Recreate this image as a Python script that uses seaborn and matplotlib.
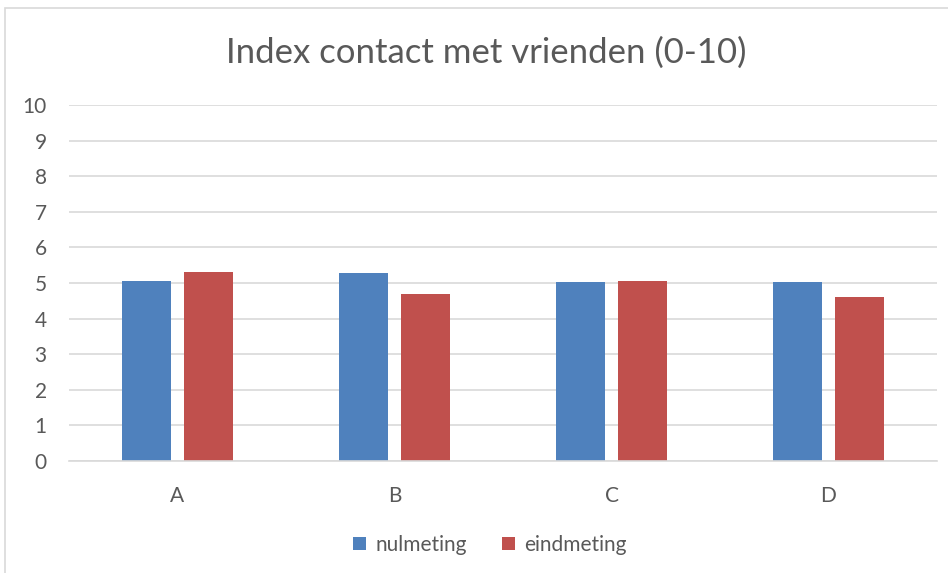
import matplotlib
matplotlib.use("Agg")
import matplotlib.pyplot as plt
import seaborn as sns
import pandas as pd
from matplotlib.patches import Rectangle

categories = ["A", "B", "C", "D"]
nulmeting = [5.06, 5.28, 5.03, 5.03]
eindmeting = [5.31, 4.70, 5.06, 4.62]
series_names = ["nulmeting", "eindmeting"]
title = "Index contact met vrienden (0-10)"
colors = ["#4F81BD", "#C0504D"]

df = pd.DataFrame({
    "cat": categories * 2,
    "val": nulmeting + eindmeting,
    "serie": [series_names[0]] * 4 + [series_names[1]] * 4,
})

sns.set_theme(style="white")
plt.rcParams["font.family"] = ["Lato", "DejaVu Sans"]

W, H = 948, 573
fig = plt.figure(figsize=(W / 100, H / 100), dpi=100)
ax = fig.add_axes([69 / W, 1 - 461 / H, (937 - 69) / W, (461 - 105) / H])

sns.barplot(data=df, x="cat", y="val", hue="serie", order=categories,
            hue_order=series_names, palette=colors, width=0.572, gap=0.21,
            saturation=1, ax=ax, legend=True, edgecolor="none")

ax.set_ylim(0, 10)
ax.set_xlim(-0.5, 3.5)
ax.set_yticks(range(0, 11))
ax.yaxis.grid(True, color="#d9d9d9", linewidth=1.2)
ax.set_axisbelow(True)
for s in ["top", "right", "left"]:
    ax.spines[s].set_visible(False)
ax.spines["bottom"].set_color("#d9d9d9")
ax.spines["bottom"].set_linewidth(1.2)
ax.set_xlabel("")
ax.set_ylabel("")
ax.tick_params(axis="y", length=0, pad=16, labelsize=15, labelcolor="#595959")
ax.tick_params(axis="x", length=0, pad=18, labelsize=15, labelcolor="#595959")

fig.text(486 / W, 1 - 53 / H, title, ha="center", va="center",
         fontsize=25, color="#595959")

handles, labels = ax.get_legend_handles_labels()
ax.legend_.remove()
fig.legend(handles, labels, loc="center", bbox_to_anchor=(490 / W, 1 - 545 / H),
           ncol=2, frameon=False, fontsize=15, labelcolor="#595959",
           handlelength=0.62, handleheight=0.62, handletextpad=0.45,
           columnspacing=1.7)

fig.patches.append(Rectangle((5 / W, -0.1), 1.2, 1 - 8 / H + 0.1,
                             transform=fig.transFigure, fill=False,
                             edgecolor="#d9d9d9", linewidth=1.2))

fig.savefig("out.png", dpi=100, facecolor="white")
